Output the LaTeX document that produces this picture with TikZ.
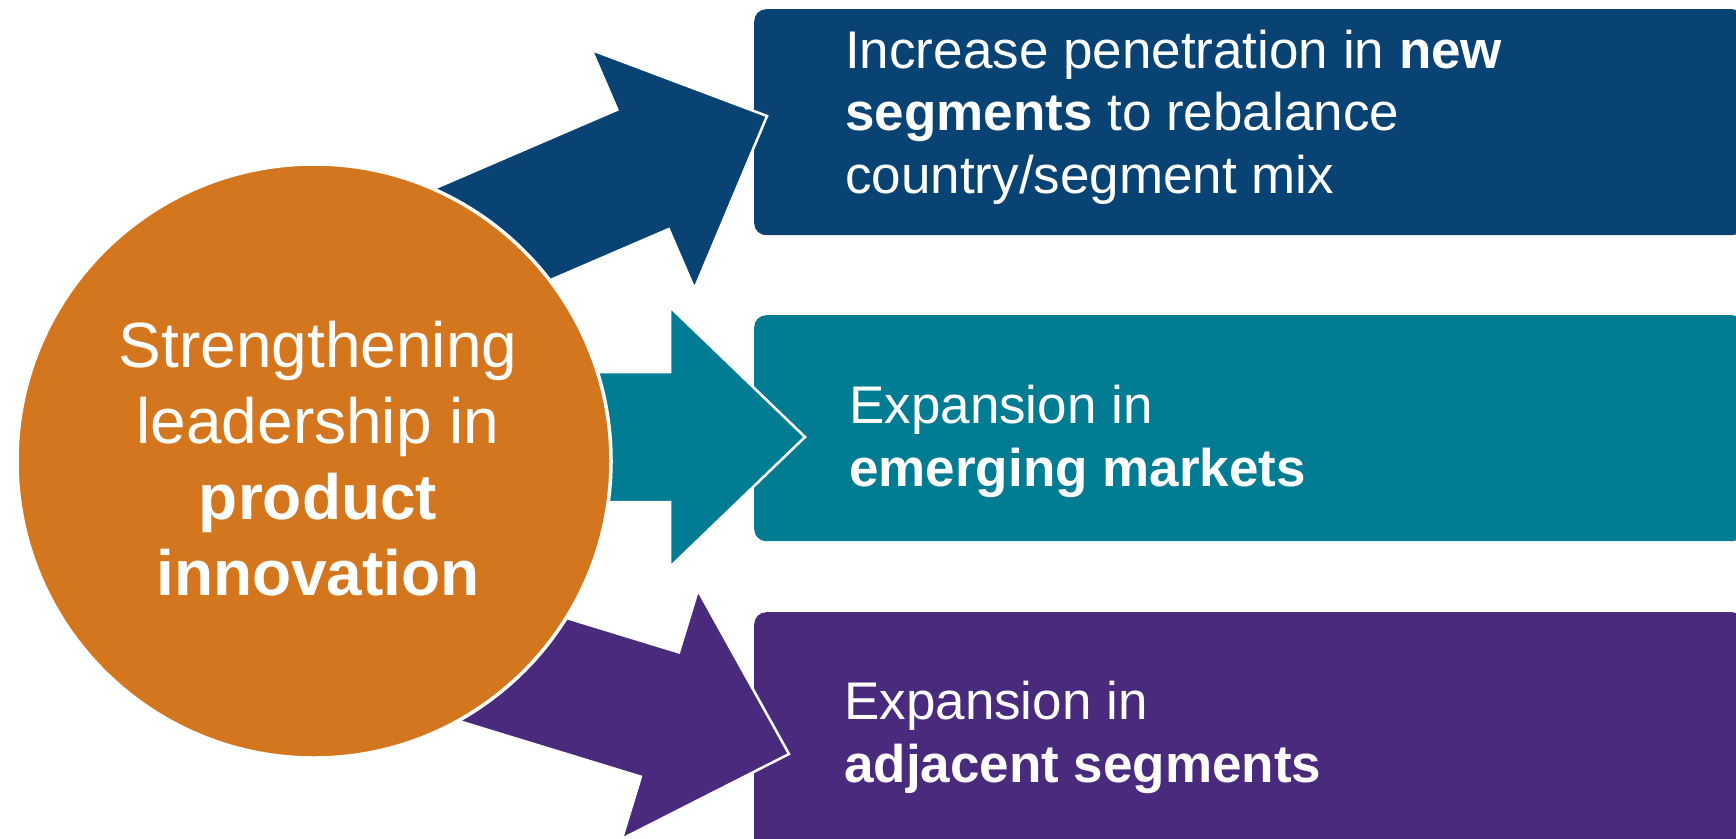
\documentclass[tikz,border=0pt]{standalone}
\usepackage{fontspec}
\setmainfont{Liberation Sans}
\definecolor{goalblue}{HTML}{084374}
\definecolor{goalteal}{HTML}{027C93}
\definecolor{goalpurple}{HTML}{4A2A7D}
\definecolor{huborange}{HTML}{D4761E}

\begin{document}
\begin{tikzpicture}[x=1pt,y=-1pt,
  goalbox/.style={rounded corners=12pt,inner sep=0pt,anchor=north west,
    minimum width=990pt,minimum height=226pt},
  bigarrow/.style={draw=white,line width=2.5pt,line join=miter},
  goaltext/.style={anchor=base west,inner sep=0pt,align=left,text=white,
    font=\fontsize{53}{62.5}\selectfont},
  hub/.style={circle,fill=huborange,draw=white,line width=3.5pt,inner sep=0pt,
    minimum size=594pt},
  hubtext/.style={align=center,text=white,font=\fontsize{64}{76}\selectfont}]
\useasboundingbox (0,0) rectangle (1736,838);

% the three goal boxes
\node[goalbox,fill=goalblue] (newseg) at (754,9) {};
\node[goalbox,fill=goalteal] (emerging) at (754,315) {};
\node[goalbox,fill=goalpurple,minimum height=250pt] (adjacent) at (754,612) {};

% block arrows, tail hidden under the circle
\begin{scope}[shift={(767,116)},rotate=23.3]
\filldraw[bigarrow,fill=goalblue] (-400,-65) -- (-135,-65) -- (-135,-130) -- (0,0)
  -- (-135,130) -- (-135,65) -- (-400,65) -- cycle;
\end{scope}
\begin{scope}[shift={(805,437)}]
\filldraw[bigarrow,fill=goalteal] (-400,-65) -- (-135,-65) -- (-135,-130) -- (0,0)
  -- (-135,130) -- (-135,65) -- (-400,65) -- cycle;
\end{scope}
\begin{scope}[shift={(789,754)},rotate=-17]
\filldraw[bigarrow,fill=goalpurple] (-400,-65) -- (-135,-65) -- (-135,-130) -- (0,0)
  -- (-135,130) -- (-135,65) -- (-400,65) -- cycle;
\end{scope}

% centre circle
\node[hub] (innov) at (314,461) {};
\node[hubtext] (innovtext) at (318,459) {Strengthening\\leadership in\\\textbf{product}\\\textbf{innovation}};

% box texts (base = last line)
\node[goaltext] (t1) at (845,193) {Increase penetration in \textbf{new}\\\textbf{segments} to rebalance\\country/segment mix};
\node[goaltext] (t2) at (849,486) {Expansion in\\\textbf{emerging markets}};
\node[goaltext] (t3) at (844,782) {Expansion in\\\textbf{adjacent segments}};
\end{tikzpicture}
\end{document}
